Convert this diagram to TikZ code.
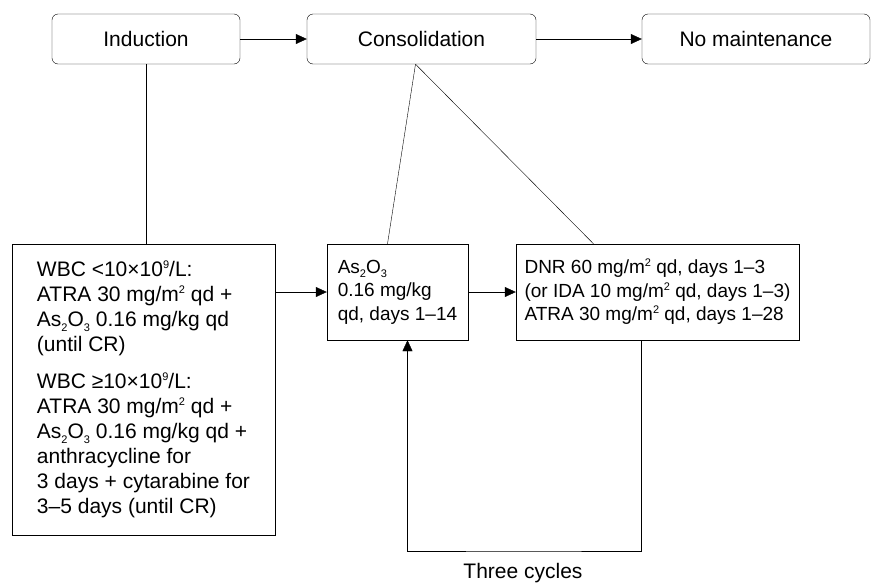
\documentclass[tikz,border=0pt]{standalone}
\usepackage{fontspec}
\setmainfont{Liberation Sans}
\usetikzlibrary{arrows.meta,calc,positioning}
\tikzset{
    line width=1.1pt,
    phase/.style ={rectangle, draw, rounded corners=6pt, minimum height=50pt},
    regimen/.style ={rectangle, draw, align=left, inner sep=0pt},
    small/.style ={font=\fontsize{19}{23.5}\selectfont},
    flow/.style={-{Triangle[length=11pt,width=10pt]}},
    el/.style = {inner sep=2pt, align=center}
}
\newcommand{\upnum}[1]{\raisebox{0.36em}{\fontsize{11}{11}\selectfont #1}}
\newcommand{\lownum}[1]{\raisebox{-0.22em}{\fontsize{11}{11}\selectfont #1}}
\newcommand{\asoxide}{As\lownum{2}O\lownum{3}}
\newcommand{\msq}{mg/m\upnum{2}}

\begin{document}
\begin{tikzpicture}[x=1pt,y=-1pt,font=\fontsize{21}{25}\selectfont]
            \useasboundingbox (0,0) rectangle (887,584);
            % Phases along the top
            \node[phase,minimum width=188pt] (induction) at (146,39) {Induction};
            \node[phase,minimum width=229pt] (consol) at (421.5,39) {Consolidation};
            \node[phase,minimum width=228pt] (nomaint) at (756,39) {No maintenance};
            % Regimen boxes
            \node[regimen,minimum width=263pt,minimum height=291pt] (induct) at (143.5,389.5)
                {WBC <10×10\upnum{9}/L:\\ATRA 30 \msq\ qd +\\\asoxide\ 0.16 mg/kg qd\\(until CR)\\[12pt]
                 WBC ≥10×10\upnum{9}/L:\\ATRA 30 \msq\ qd +\\\asoxide\ 0.16 mg/kg qd +\\anthracycline for\\3 days + cytarabine for\\3–5 days (until CR)};
            \node[regimen,small,minimum width=141pt,minimum height=96pt] (arsenic) at (397.5,292)
                {\asoxide\\0.16 mg/kg\\qd, days 1–14};
            \node[regimen,small,minimum width=283pt,minimum height=96pt] (dnr) at (657.5,292)
                {DNR 60 \msq\ qd, days 1–3\\(or IDA 10 \msq\ qd, days 1–3)\\ATRA 30 \msq\ qd, days 1–28};
            % Label the cycles
            \node[el] (cycles) at (523,573) {Three cycles};
            \coordinate (loop) at (523,551);
            % Draw the arrows
            \path[flow] (induction) edge (consol);
            \path[flow] (consol) edge (nomaint);
            \path[flow] (induct.east |- arsenic.west) edge (arsenic.west);
            \path[flow] (arsenic) edge (dnr);
            \draw[flow] ([xshift=-16pt]dnr.south) |- (loop) -| ([xshift=10pt]arsenic.south);
            % Lines down to the regimens
            \draw (induction.south) -- (induction.south |- induct.north);
            \draw ([xshift=-6pt]consol.south) -- ([xshift=-10pt]arsenic.north);
            \draw ([xshift=-6pt]consol.south) -- ([xshift=-64pt]dnr.north);
        \end{tikzpicture}
\end{document}
